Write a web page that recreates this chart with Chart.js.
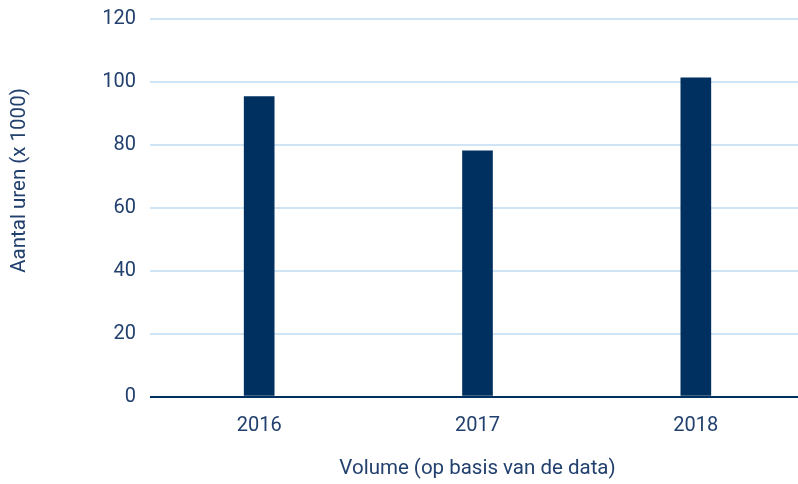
<!DOCTYPE html>
<html>
<head>
<meta charset="utf-8">
<script src="https://cdn.jsdelivr.net/npm/chart.js@4"></script>
<style>
html,body{margin:0;padding:0;overflow:hidden;background:#fff;}
canvas{display:block;}
</style>
</head>
<body>
<canvas id="c" width="805" height="484"></canvas>
<script>
const categories = ["2016", "2017", "2018"];
const uren = [95.3, 78.1, 101.3];
const yTicks = [0, 20, 40, 60, 80, 100, 120];
const yTitle = "Aantal uren (x 1000)";
const xTitle = "Volume (op basis van de data)";

const navy = "#00305f";
const textColor = "#22406d";
const gridColor = "#cfe4f5";
const FONT = "Roboto";

const yTitlePlugin = {
  id: "yTitle",
  afterDraw(chart) {
    const ctx = chart.ctx;
    ctx.save();
    ctx.translate(20, 180.5);
    ctx.rotate(-Math.PI / 2);
    ctx.font = "20.5px " + FONT;
    ctx.fillStyle = textColor;
    ctx.textAlign = "center";
    ctx.textBaseline = "middle";
    ctx.fillText(yTitle, 0, 0);
    ctx.restore();
  }
};

new Chart(document.getElementById("c"), {
  type: "bar",
  data: {
    labels: categories,
    datasets: [{
      data: uren,
      backgroundColor: navy,
      barThickness: 30,
      borderWidth: 0
    }]
  },
  plugins: [yTitlePlugin],
  options: {
    responsive: false,
    animation: false,
    layout: { padding: { left: 104, right: 0, top: 0, bottom: 0 } },
    plugins: { legend: { display: false }, tooltip: { enabled: false } },
    scales: {
      x: {
        afterFit(scale) { scale.height = 87.5; scale.paddingLeft = 0; scale.paddingRight = 0; },
        grid: { display: false, drawTicks: false },
        border: { display: false },
        ticks: { color: textColor, font: { family: FONT, size: 20 }, padding: 17 },
        title: {
          display: true, text: xTitle, color: textColor,
          font: { family: FONT, size: 20.5 }, padding: { top: 20, bottom: 3 }
        }
      },
      y: {
        min: 0, max: 120,
        afterFit(scale) { scale.width = 46; scale.paddingTop = 19; scale.paddingBottom = 0; },
        afterBuildTicks(scale) { scale.ticks = yTicks.map(v => ({ value: v })); },
        grid: {
          drawTicks: false,
          color: ctx => (ctx.tick && ctx.tick.value === 0) ? navy : gridColor,
          lineWidth: 2
        },
        border: { display: false },
        ticks: { color: textColor, font: { family: FONT, size: 20 }, padding: 14 }
      }
    }
  }
});
</script>
</body>
</html>
